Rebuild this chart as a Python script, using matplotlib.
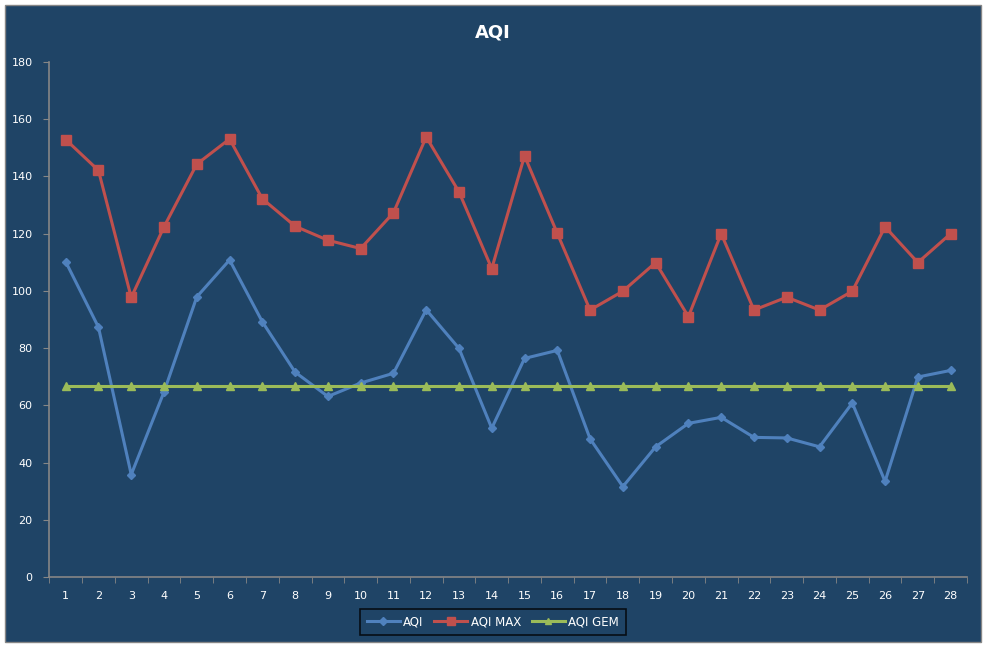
import matplotlib.pyplot as plt
from matplotlib.patches import Rectangle

days = list(range(1, 29))
aqi = [110.2, 87.3, 35.8, 64.7, 97.9, 110.8, 89.2, 71.6, 63.1, 67.8,
       71.2, 93.4, 79.9, 52.0, 76.4, 79.2, 48.3, 31.6, 45.5, 53.7,
       55.8, 48.8, 48.6, 45.5, 60.8, 33.4, 69.9, 72.2]
aqi_max = [152.9, 142.1, 97.7, 122.4, 144.3, 153.1, 132.2, 122.6, 117.7, 114.8,
           127.3, 153.8, 134.6, 107.8, 147.2, 120.1, 93.3, 99.9, 109.9, 91.0,
           120.0, 93.3, 97.8, 93.3, 99.9, 122.4, 109.9, 120.0]
aqi_gem = [66.6] * 28

bg = '#1F4466'
axis_col = '#868686'

fig = plt.figure(figsize=(9.87, 6.48), dpi=100)
fig.patch.set_facecolor('white')
fig.patches.append(Rectangle((5 / 987, 6 / 648), 976 / 987, 637 / 648,
                             transform=fig.transFigure, facecolor=bg,
                             edgecolor=axis_col, linewidth=1, zorder=-5))

ax = fig.add_axes([49.3 / 987, 71 / 648, 917.7 / 987, 515 / 648])
ax.set_facecolor(bg)

ax.plot(days, aqi, color='#4F81BD', lw=2.2, marker='D', ms=4.5, label='AQI')
ax.plot(days, aqi_max, color='#C0504D', lw=2.2, marker='s', ms=7, label='AQI MAX')
ax.plot(days, aqi_gem, color='#9BBB59', lw=2.2, marker='^', ms=6, label='AQI GEM')

ax.set_xlim(0.5, 28.5)
ax.set_ylim(0, 180)
ax.set_yticks(range(0, 181, 20))
ax.set_xticks(days)
ax.set_xticks([d + 0.5 for d in range(0, 29)], minor=True)
ax.tick_params(axis='x', which='major', length=0, pad=10, colors='white', labelsize=8)
ax.tick_params(axis='x', which='minor', length=4, color=axis_col)
ax.tick_params(axis='y', length=4, color=axis_col, labelcolor='white', labelsize=8, pad=8)

for s in ['top', 'right']:
    ax.spines[s].set_visible(False)
for s in ['left', 'bottom']:
    ax.spines[s].set_color(axis_col)
    ax.spines[s].set_linewidth(1.2)

fig.text(493 / 987, 1 - 32 / 648, 'AQI', color='white', fontsize=13,
         fontweight='bold', ha='center', va='center')

leg = ax.legend(loc='center', bbox_to_anchor=(493 / 987, 1 - 622 / 648),
                bbox_transform=fig.transFigure, ncol=3, frameon=True,
                fontsize=8.5, labelcolor='white', facecolor=bg, edgecolor='black',
                fancybox=False, handlelength=2.8, columnspacing=0.9,
                handletextpad=0.3, borderpad=0.55, markerscale=0.8)
leg.get_frame().set_linewidth(1.2)

fig.savefig('out.png', dpi=100, facecolor=fig.get_facecolor())
